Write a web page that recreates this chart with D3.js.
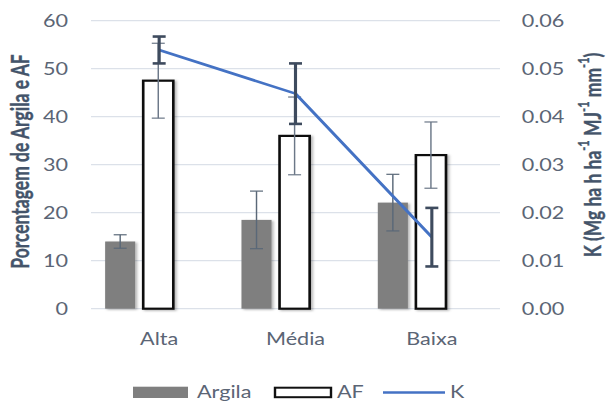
<!DOCTYPE html>
<html>
<head>
<meta charset="utf-8">
<script src="https://cdn.jsdelivr.net/npm/d3@7"></script>
<style>
  html, body { margin: 0; padding: 0; background: #fff; }
  svg { display: block; }
  text { font-family: Lato, "Open Sans", sans-serif; }
</style>
</head>
<body>
<div id="chart"></div>
<script>
// Soil texture class data
const categories = ["Alta", "Média", "Baixa"];
const argila = [14.0, 18.5, 22.1];
const argilaErr = [1.4, 6.0, 5.9];
const af = [47.5, 36.0, 32.0];
const afErr = [7.8, 8.1, 6.9];
const kValues = [0.0539, 0.0448, 0.0149];
const kErr = [0.0028, 0.0063, 0.0061];
const leftTicks = [0, 10, 20, 30, 40, 50, 60];
const rightTicks = [0, 0.01, 0.02, 0.03, 0.04, 0.05, 0.06];
const seriesNames = ["Argila", "AF", "K"];

// The drawing is laid out in a horizontally condensed space and stretched to full width
const S = 1.2;
const W = 606 / S, H = 401;
const px = v => v / S;

const svg = d3.select("#chart").append("svg")
  .attr("width", 606).attr("height", 401)
  .attr("viewBox", `0 0 ${W} ${H}`)
  .attr("preserveAspectRatio", "none");

const defs = svg.append("defs");
const shadow = defs.append("filter").attr("id", "barShadow")
  .attr("x", "-20%").attr("y", "-5%").attr("width", "150%").attr("height", "115%");
shadow.append("feDropShadow").attr("dx", 1.6).attr("dy", 1).attr("stdDeviation", 1.2)
  .attr("flood-color", "#000").attr("flood-opacity", 0.3);

const plotLeft = px(91), plotRight = px(500), plotTop = 20.7, plotBottom = 308.7;

const yL = d3.scaleLinear().domain([0, 60]).range([plotBottom, plotTop]);
const yR = d3.scaleLinear().domain([0, 0.06]).range([plotBottom, plotTop]);
const x0 = d3.scaleBand().domain(categories).range([plotLeft, plotRight]);
const xs = d3.scaleBand().domain(seriesNames).range([0, x0.bandwidth()])
  .paddingInner(0.21).paddingOuter(0.395).align(0.47);

const tickColor = "#5b6575";
const titleColor = "#44546A";
const fontSize = 18;

// gridlines
svg.append("g").selectAll("line").data(leftTicks).join("line")
  .attr("x1", plotLeft).attr("x2", plotRight)
  .attr("y1", d => yL(d)).attr("y2", d => yL(d))
  .attr("stroke", "#dce1e9").attr("stroke-width", 1.3);

// left axis
const gL = svg.append("g").attr("transform", `translate(${plotLeft},0)`)
  .call(d3.axisLeft(yL).tickValues(leftTicks).tickSize(0).tickPadding(px(23)));
gL.select(".domain").remove();
gL.selectAll("text").attr("fill", tickColor).style("font-size", fontSize + "px")
  .style("font-family", "Lato, sans-serif");

// right axis
const gR = svg.append("g").attr("transform", `translate(${plotRight},0)`)
  .call(d3.axisRight(yR).tickValues(rightTicks).tickFormat(d3.format(".2f"))
    .tickSize(0).tickPadding(px(21.7)));
gR.select(".domain").remove();
gR.selectAll("text").attr("fill", tickColor).style("font-size", fontSize + "px")
  .style("font-family", "Lato, sans-serif");

// category axis
const gB = svg.append("g").attr("transform", `translate(0,${plotBottom})`)
  .call(d3.axisBottom(x0).tickSize(0).tickPadding(24));
gB.select(".domain").remove();
gB.selectAll("text").attr("fill", tickColor).style("font-size", fontSize + "px")
  .style("font-family", "Lato, sans-serif");

// bars
const bars = svg.append("g");
bars.selectAll("rect.argila").data(categories).join("rect")
  .attr("class", "argila")
  .attr("x", (c) => x0(c) + xs("Argila"))
  .attr("width", xs.bandwidth())
  .attr("y", (c, i) => yL(argila[i]))
  .attr("height", (c, i) => plotBottom - yL(argila[i]))
  .attr("fill", "#7f7f7f")
  .attr("filter", "url(#barShadow)");

bars.selectAll("rect.af").data(categories).join("rect")
  .attr("class", "af")
  .attr("x", (c) => x0(c) + xs("AF"))
  .attr("width", xs.bandwidth())
  .attr("y", (c, i) => yL(af[i]))
  .attr("height", (c, i) => plotBottom - yL(af[i]))
  .attr("fill", "#fff")
  .attr("stroke", "#111")
  .attr("stroke-width", 2.2)
  .attr("filter", "url(#barShadow)");

// error bars with caps
function errorBars(g, cx, yScale, vals, errs, color, width, capHalf) {
  const eg = g.append("g").attr("stroke", color).attr("stroke-width", width).attr("fill", "none");
  categories.forEach((c, i) => {
    const x = cx(c);
    const y1 = yScale(vals[i] + errs[i]), y2 = yScale(vals[i] - errs[i]);
    eg.append("line").attr("x1", x).attr("x2", x).attr("y1", y1).attr("y2", y2);
    eg.append("line").attr("x1", x - capHalf).attr("x2", x + capHalf).attr("y1", y1).attr("y2", y1);
    eg.append("line").attr("x1", x - capHalf).attr("x2", x + capHalf).attr("y1", y2).attr("y2", y2);
  });
}

const capHalf = px(6.5);
errorBars(svg, c => x0(c) + xs("Argila") + xs.bandwidth() / 2, yL, argila, argilaErr, "#5a6878", 1.2, capHalf);
errorBars(svg, c => x0(c) + xs("AF") + xs.bandwidth() / 2, yL, af, afErr, "#6b7787", 1.2, capHalf);

// K line on the secondary axis
const kx = c => x0(c) + x0.bandwidth() / 2;
const line = d3.line().x((d, i) => kx(categories[i])).y(d => yR(d));
svg.append("path").datum(kValues)
  .attr("d", line)
  .attr("fill", "none")
  .attr("stroke", "#4472C4")
  .attr("stroke-width", 2.6)
  .attr("stroke-linejoin", "round");

errorBars(svg, kx, yR, kValues, kErr, "#3e4b5e", 2.6, capHalf);

// axis titles (glyphs drawn a little taller across the axis)
svg.append("text")
  .attr("transform", `translate(${px(20)},161.5) rotate(-90) scale(1,1.18)`)
  .attr("text-anchor", "middle").attr("dominant-baseline", "central")
  .attr("fill", titleColor).attr("stroke", titleColor).attr("stroke-width", 0.3)
  .style("font-size", "17.5px").style("font-weight", "bold")
  .text("Porcentagem de Argila e AF");

const rt = svg.append("text")
  .attr("transform", `translate(${px(592)},155) rotate(-90) scale(1,1.08)`)
  .attr("text-anchor", "middle").attr("dominant-baseline", "central")
  .attr("fill", titleColor).attr("stroke", titleColor).attr("stroke-width", 0.3)
  .style("font-size", "17.5px").style("font-weight", "bold");
const rParts = [["K (Mg ha h ha", false], ["-1", true], [" MJ", false], ["-1", true], [" mm", false], ["-1", true], [")", false]];
rParts.forEach(([t, sup]) => {
  const ts = rt.append("tspan").text(t);
  if (sup) ts.attr("baseline-shift", "super").style("font-size", "11px");
});

// legend
const leg = svg.append("g");
const legY = 392.5;
leg.append("rect").attr("x", px(133)).attr("y", 386.7).attr("width", px(55)).attr("height", 11.3)
  .attr("fill", "#7f7f7f");
leg.append("text").attr("x", px(197)).attr("y", 398.3).attr("fill", tickColor)
  .style("font-size", fontSize + "px").text(seriesNames[0]);
leg.append("rect").attr("x", px(275)).attr("y", 387.7).attr("width", px(56)).attr("height", 9.5)
  .attr("fill", "#fff").attr("stroke", "#111").attr("stroke-width", 2);
leg.append("text").attr("x", px(337)).attr("y", 398.3).attr("fill", tickColor)
  .style("font-size", fontSize + "px").text(seriesNames[1]);
leg.append("line").attr("x1", px(383)).attr("x2", px(445)).attr("y1", legY).attr("y2", legY)
  .attr("stroke", "#4472C4").attr("stroke-width", 2.6);
leg.append("text").attr("x", px(450)).attr("y", 398.3).attr("fill", tickColor)
  .style("font-size", fontSize + "px").text(seriesNames[2]);
</script>
</body>
</html>
